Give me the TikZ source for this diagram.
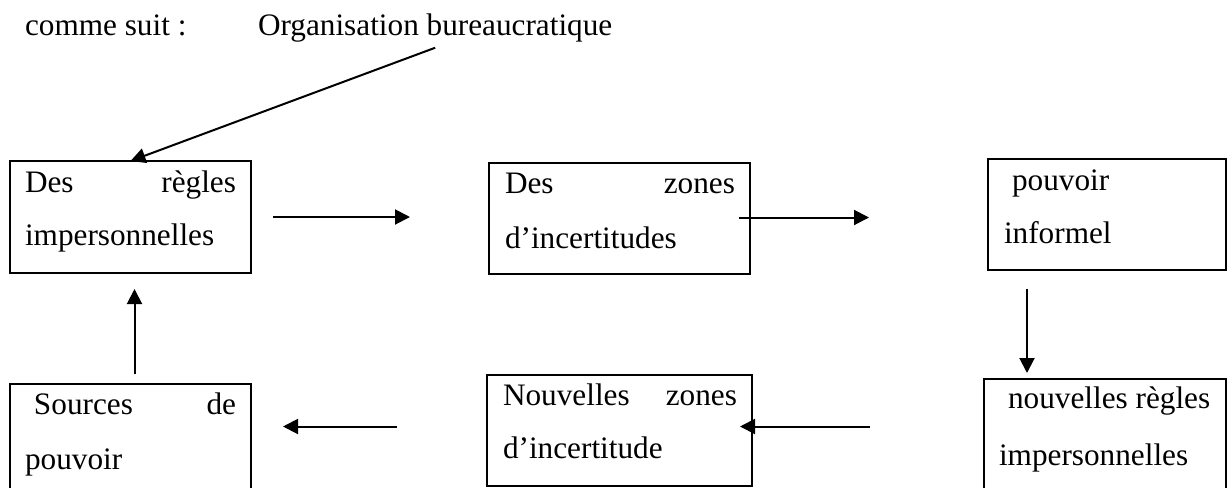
\documentclass[tikz,border=0pt]{standalone}
\usepackage{fontspec}
\setmainfont{Liberation Serif}
\usetikzlibrary{arrows.meta}
\usetikzlibrary{calc}
\usetikzlibrary{positioning}

\begin{document}
\begin{tikzpicture}[
		x=0.4pt,
		y=-0.4pt,
		font=\fontsize{12.5pt}{15pt}\selectfont,
		>={Triangle[length=6pt,width=6pt]},
		line width=0.8pt,
	]
		\tikzset{frame/.style={
			draw,
			rectangle,
			anchor=north west,
			inner sep=0,
			outer sep=0,
		}}
		\tikzset{line/.style={
			anchor=base west,
			inner sep=0,
		}}

		\useasboundingbox (0,0) rectangle (1227,487);
		\fill[white] (0,0) rectangle (1227,487);
		\clip (0,0) rectangle (1227,487);

		\node[line] (intro) at (24,35) {comme suit :};
		\node[anchor=base west, inner sep=2pt] (org) at (252,35) {Organisation bureaucratique};

		% top row
		\node[frame, minimum width=96.4pt, minimum height=44.8pt] (rules1) at (10,161) {};
		\node[frame, minimum width=104.4pt, minimum height=44.4pt] (zones1) at (489,163) {};
		\node[frame, minimum width=95.2pt, minimum height=44.4pt] (power1) at (988,159) {};

		% bottom row
		\node[frame, minimum width=96.4pt, minimum height=46.4pt] (power2) at (10,384) {};
		\node[frame, minimum width=106pt, minimum height=44.4pt] (zones2) at (487,375) {};
		\node[frame, minimum width=96.8pt, minimum height=48.4pt] (rules2) at (984,379) {};

		\node[line, text width=84.4pt] (rules1a) at (24,192) {Des\hfill règles};
		\node[line] (rules1b) at (24,245) {impersonnelles};
		\node[line, text width=92pt] (zones1a) at (504,193) {Des\hfill zones};
		\node[line] (zones1b) at (504,248) {d’incertitudes};
		\node[line] (power1a) at (1011,190) {pouvoir};
		\node[line] (power1b) at (1003,243) {informel};

		\node[line, text width=80.8pt] (power2a) at (33,414) {Sources\hfill de};
		\node[line] (power2b) at (24,469) {pouvoir};
		\node[line, text width=93.6pt] (zones2a) at (502,405) {Nouvelles\hfill zones};
		\node[line] (zones2b) at (502,458) {d’incertitude};
		\node[line] (rules2a) at (1007,408) {nouvelles règles};
		\node[line] (rules2b) at (998,465) {impersonnelles};

		\draw[->] (org.south) -- (rules1.north);

		\draw[->] ($(rules1.east)+(22,0)$) -- ($(rules1.east -| zones1.west)-(79,0)$);
		\draw[->] ($(zones1.east)-(11,1)$) -- ($(zones1.east -| power1.west)-(119,1)$);
		\draw[->] ($(power1.south west)+(39,19)$) -- ($(rules2.north west)+(43,-6)$);
		\draw[->] ($(zones2.east -| rules2.west)-(114,4)$) -- ($(zones2.east)-(12,4)$);
		\draw[->] ($(zones2.west)-(90,4)$) -- ($(zones2.west -| power2.east)+(32,-4)$);
		\draw[->] ($(power2.north)+(4,-10)$) -- ($(rules1.south)+(4,16)$);
	\end{tikzpicture}
\end{document}
